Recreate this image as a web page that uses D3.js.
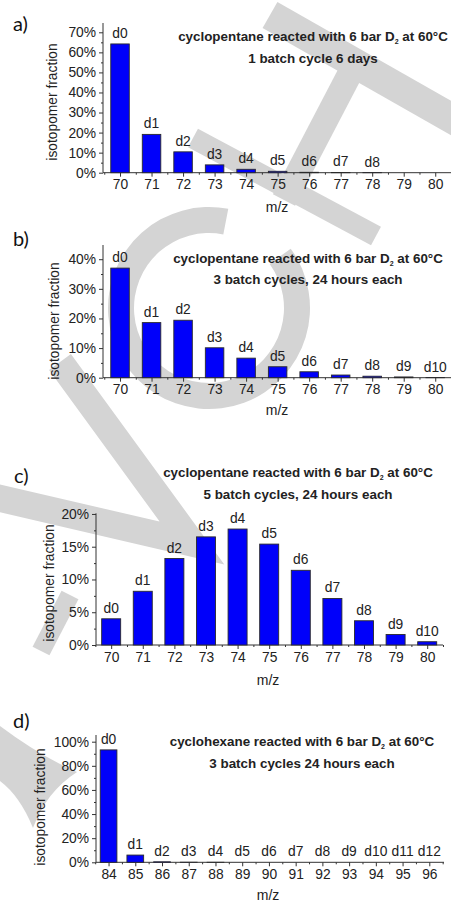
<!DOCTYPE html>
<html>
<head>
<meta charset="utf-8">
<script src="https://cdn.jsdelivr.net/npm/d3@7"></script>
<style>
  body { margin: 0; background: #fff; }
  svg text { font-family: "Liberation Sans", Arial, sans-serif; fill: #222; }
  .panel-tag { font-family: Lato, "Open Sans", sans-serif; fill: #111; }
</style>
</head>
<body>
<div id="chart"></div>
<script>

// m/z categories
let mzPentane = [70, 71, 72, 73, 74, 75, 76, 77, 78, 79, 80];
let mzHexane = [84, 85, 86, 87, 88, 89, 90, 91, 92, 93, 94, 95, 96];

// isotopomer fractions
let fracA = [0.642, 0.191, 0.104, 0.039, 0.017, 0.007, 0.002, 0.001, 0.0005, 0, 0];
let fracB = [0.370, 0.186, 0.194, 0.101, 0.066, 0.037, 0.020, 0.009, 0.005, 0.0025, 0.0005];
let fracC = [0.040, 0.082, 0.132, 0.165, 0.177, 0.154, 0.114, 0.071, 0.037, 0.016, 0.005];
let fracD = [0.932, 0.060, 0.004, 0.0005, 0.0002, 0, 0, 0, 0, 0, 0, 0, 0];

// bar labels
let labelsA = ['d0', 'd1', 'd2', 'd3', 'd4', 'd5', 'd6', 'd7', 'd8'];
let labelsB = ['d0', 'd1', 'd2', 'd3', 'd4', 'd5', 'd6', 'd7', 'd8', 'd9', 'd10'];
let labelsC = ['d0', 'd1', 'd2', 'd3', 'd4', 'd5', 'd6', 'd7', 'd8', 'd9', 'd10'];
let labelsD = ['d0', 'd1', 'd2', 'd3', 'd4', 'd5', 'd6', 'd7', 'd8', 'd9', 'd10', 'd11', 'd12'];

// y tick values
let yTicksA = [0, 0.1, 0.2, 0.3, 0.4, 0.5, 0.6, 0.7];
let yMinorA = [0.05, 0.15, 0.25, 0.35, 0.45, 0.55, 0.65];
let yTicksB = [0, 0.1, 0.2, 0.3, 0.4];
let yMinorB = [0.05, 0.15, 0.25, 0.35];
let yTicksC = [0, 0.05, 0.1, 0.15, 0.2];
let yMinorC = [0.025, 0.075, 0.125, 0.175];
let yTicksD = [0, 0.2, 0.4, 0.6, 0.8, 1.0];
let yMinorD = [0.1, 0.3, 0.5, 0.7, 0.9];

// titles
let titleA = ['cyclopentane', '1 batch cycle 6 days'];
let titleB = ['cyclopentane', '3 batch cycles, 24 hours each'];
let titleC = ['cyclopentane', '5 batch cycles, 24 hours each'];
let titleD = ['cyclohexane', '3 batch cycles 24 hours each'];

let svg = d3.select('#chart')
  .append('svg')
    .attr('width', 451)
    .attr('height', 903)
;

// grey watermark behind the charts
let wm = svg.append('g')
    .attr('fill', 'none')
    .attr('stroke', '#d4d4d4')
;
wm.append('path')   // T top bar
    .attr('d', 'M270,15L472,130')
    .attr('stroke-width', 30);
wm.append('path')   // T stem
    .attr('d', 'M356,62L284,200')
    .attr('stroke-width', 25);
wm.append('path')
    .attr('d', 'M193,138L376,236')
    .attr('stroke-width', 21);
wm.append('path')   // C ring
    .attr('fill', '#d4d4d4')
    .attr('stroke', 'none')
    .attr('transform', 'translate(209,308)')
    .attr('d', d3.arc()({innerRadius: 75, outerRadius: 101,
                          startAngle: 54 * Math.PI / 180,
                          endAngle: 371 * Math.PI / 180}));
wm.append('path')   // V
    .attr('d', 'M60,362L192,543L-10,496')
    .attr('stroke-width', 27)
    .attr('stroke-linejoin', 'miter');
wm.append('path')
    .attr('d', 'M70,595L41,651')
    .attr('stroke-width', 19);
wm.append('path')
    .attr('fill', '#d4d4d4')
    .attr('stroke', 'none')
    .attr('d', 'M0,726Q40,756 77,772Q46,792 33,828Q20,796 0,781Z');


function drawPanel(p, mz, frac, labels, yTicks, yMinor, title) {
  let g = svg.append('g');

  let x = d3.scaleLinear().domain(p.xDomain).range(p.xRange);
  let y = d3.scaleLinear().domain(p.yDomain).range(p.yRange);
  let y0 = y(0);

  // y axis
  g.append('g')
      .attr('transform', 'translate(' + p.xRange[0] + ',0)')
      .call(d3.axisLeft(y).tickValues(yMinor).tickSize(2).tickFormat(''))
      .call(s => s.select('.domain').remove());
  let ya = g.append('g')
      .attr('transform', 'translate(' + p.xRange[0] + ',0)')
      .call(d3.axisLeft(y).tickValues(yTicks).tickSize(4).tickPadding(3)
              .tickFormat(d3.format('.0%')))
  ;
  ya.select('.domain').attr('d', 'M0,' + p.yRange[0] + 'V' + p.yRange[1]);

  // x axis
  let halves = mz.map(d => d + 0.5).concat([mz[0] - 0.5]);
  g.append('g')
      .attr('transform', 'translate(0,' + y0 + ')')
      .call(d3.axisBottom(x).tickValues(halves).tickSize(2).tickFormat(''))
      .call(s => s.select('.domain').remove());
  let xa = g.append('g')
      .attr('transform', 'translate(0,' + y0 + ')')
      .call(d3.axisBottom(x).tickValues(mz).tickSize(4).tickPadding(3)
              .tickFormat(d3.format('d')))
  ;
  xa.select('.domain').attr('d', 'M' + p.xRange[0] + ',0H' + p.xRange[1]);

  g.selectAll('.tick text')
      .attr('font-size', 13.8)
      .attr('fill', '#222')
      .attr('font-family', '"Liberation Sans", Arial, sans-serif');
  g.selectAll('.domain, .tick line').attr('stroke', '#333');

  // bars
  g.selectAll('.bar').data(frac).enter()
    .append('rect')
      .attr('class', 'bar')
      .attr('x', (d, i) => x(mz[i]) - p.barW / 2)
      .attr('width', p.barW)
      .attr('y', d => y(d))
      .attr('height', d => y0 - y(d))
      .attr('fill', '#0000fa')
      .attr('stroke', '#2a2a2a')
      .attr('stroke-width', 0.9)
  ;

  // bar labels
  g.selectAll('.blab').data(labels).enter()
    .append('text')
      .attr('class', 'blab')
      .attr('x', (d, i) => x(mz[i]))
      .attr('y', (d, i) => y(frac[i]) - 6)
      .attr('text-anchor', 'middle')
      .attr('font-size', 13.8)
      .text(d => d)
  ;

  // panel tag
  g.append('text')
      .attr('class', 'panel-tag')
      .attr('x', p.tag[0])
      .attr('y', p.tag[1])
      .attr('font-size', 20)
      .text(p.tagText);

  // axis titles
  g.append('text')
      .attr('x', p.mz[0])
      .attr('y', p.mz[1])
      .attr('text-anchor', 'middle')
      .attr('font-size', 14)
      .text('m/z');
  g.append('text')
      .attr('transform', 'translate(' + p.ylab[0] + ',' + p.ylab[1] + ') rotate(-90)')
      .attr('text-anchor', 'middle')
      .attr('font-size', 13.8)
      .text('isotopomer fraction');

  // chart title
  let t1 = g.append('text')
      .attr('x', p.title[0])
      .attr('y', p.title[1])
      .attr('text-anchor', 'middle')
      .attr('font-size', 13.4)
      .attr('font-weight', 'bold');
  t1.append('tspan').text(title[0] + ' reacted with 6 bar D');
  t1.append('tspan').text('2').attr('font-size', 7).attr('dy', 3);
  t1.append('tspan').text(' at 60°C').attr('dy', -3);
  g.append('text')
      .attr('x', p.title[0])
      .attr('y', p.title[2])
      .attr('text-anchor', 'middle')
      .attr('font-size', 13.4)
      .attr('font-weight', 'bold')
      .text(title[1]);
}

drawPanel({xDomain: [69.46, 80.5], xRange: [103, 451],
           yDomain: [0, 0.7464], yRange: [172.7, 23],
           barW: 18.5, tag: [13, 31], tagText: 'a)',
           mz: [277, 211.5], ylab: [57, 102], title: [313, 41, 63]},
          mzPentane, fracA, labelsA, yTicksA, yMinorA, titleA);

drawPanel({xDomain: [69.46, 80.5], xRange: [103, 451],
           yDomain: [0, 0.448], yRange: [377.7, 245],
           barW: 18.5, tag: [13, 246], tagText: 'b)',
           mz: [277, 414.5], ylab: [59, 321], title: [308, 263, 284]},
          mzPentane, fracB, labelsB, yTicksB, yMinorB, titleB);

drawPanel({xDomain: [69.52, 80.5], xRange: [96, 443],
           yDomain: [0, 0.201], yRange: [645, 513.3],
           barW: 19, tag: [14, 483], tagText: 'c)',
           mz: [268, 684.5], ylab: [54, 583], title: [298, 477, 498.5]},
          mzPentane, fracC, labelsC, yTicksC, yMinorC, titleC);

drawPanel({xDomain: [83.53, 96.55], xRange: [96, 444],
           yDomain: [0, 1.0555], yRange: [862.3, 735],
           barW: 16.7, tag: [13, 728], tagText: 'd)',
           mz: [268, 899.5], ylab: [45, 807], title: [302, 746, 768]},
          mzHexane, fracD, labelsD, yTicksD, yMinorD, titleD);

</script>
</body>
</html>
